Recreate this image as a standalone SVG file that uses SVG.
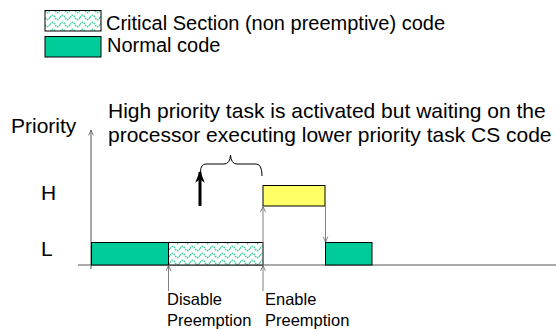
<svg xmlns="http://www.w3.org/2000/svg" width="556" height="329" viewBox="0 0 556 329">
<style>
text{font-family:"Liberation Sans",Arial,sans-serif;fill:#000}
.big{font-size:21px}
.leg{font-size:20px}
.sm{font-size:16.5px}
.box{stroke:#000;stroke-width:1}
.green{fill:#00CC99}
.yellow{fill:#FFFF66}
.hatch{fill:url(#wave)}
.conn{stroke:#808080;stroke-width:1;fill:none}
.axis{stroke:#555;stroke-width:1;fill:none}
</style>
<defs>
<pattern id="wave" patternUnits="userSpaceOnUse" x="0" y="0" width="10" height="7">
<rect width="10" height="7" fill="#fff"/>
<path d="M0,3.5 C1.7,0.6 3.3,0.6 5,3.5 S8.3,6.4 10,3.5" fill="none" stroke="#3FCFA2" stroke-width="1.5" stroke-dasharray="1.6 0.8"/>
</pattern>
<marker id="open" viewBox="0 0 10 10" refX="10" refY="5" markerWidth="6" markerHeight="6" orient="auto" markerUnits="userSpaceOnUse">
<path d="M1,1 L10,5 L1,9" fill="none" stroke="#555" stroke-width="1.2"/>
</marker>
<marker id="bold" viewBox="0 0 10 10" refX="9" refY="5" markerWidth="12" markerHeight="12" orient="auto" markerUnits="userSpaceOnUse">
<path d="M0,1 L10,5 L0,9 L3,5 Z" fill="#000"/>
</marker>
</defs>

<g id="legend">
<rect class="box hatch" x="45" y="10.5" width="56" height="20.5"/>
<rect class="box green" x="45" y="36.5" width="56" height="20.5"/>
<text class="leg" x="106" y="29.5">Critical Section (non preemptive) code</text>
<text class="leg" x="107" y="51.5">Normal code</text>
</g>

<g id="labels">
<text class="big" x="11" y="133">Priority</text>
<text class="big" x="108" y="118">High priority task is activated but waiting on the</text>
<text class="big" x="108" y="142">processor executing lower priority task CS code</text>
<text class="big" x="41" y="200">H</text>
<text class="big" x="41" y="256">L</text>
</g>

<g id="axes">
<line class="axis" x1="78" y1="265" x2="556" y2="265"/>
<line class="axis" x1="91" y1="269" x2="91" y2="130" marker-end="url(#open)"/>
</g>

<g id="task-L1"><rect class="box green" x="91.5" y="242.5" width="77" height="22.5"/></g>
<g id="task-L-cs"><rect class="box hatch" x="168.5" y="242.5" width="94.5" height="22.5"/></g>
<g id="task-H"><rect class="box yellow" x="263" y="185.5" width="62" height="20.5"/></g>
<g id="task-L2"><rect class="box green" x="325.5" y="242.5" width="46.5" height="22.5"/></g>

<g id="annotation">
<path d="M200.5,172 Q200.5,164 206,164 L224,164 Q230,164 230.5,155 Q231,164 237,164 L256,164 Q262,164 262,176" fill="none" stroke="#000" stroke-width="1"/>
<line x1="200" y1="206" x2="200" y2="172" stroke="#000" stroke-width="3" marker-end="url(#bold)"/>
</g>

<g id="connectors">
<line class="conn" x1="263" y1="265" x2="263" y2="206.5" marker-end="url(#open)"/>
<line class="conn" x1="325.5" y1="206" x2="325.5" y2="242" marker-end="url(#open)"/>
<line class="conn" x1="168.5" y1="291" x2="168.5" y2="265.5" marker-end="url(#open)"/>
<line class="conn" x1="263" y1="291" x2="263" y2="265.5" marker-end="url(#open)"/>
</g>

<g id="events">
<text class="sm" x="167" y="305">Disable</text>
<text class="sm" x="167" y="326">Preemption</text>
<text class="sm" x="265" y="305">Enable</text>
<text class="sm" x="265" y="326">Preemption</text>
</g>
</svg>
